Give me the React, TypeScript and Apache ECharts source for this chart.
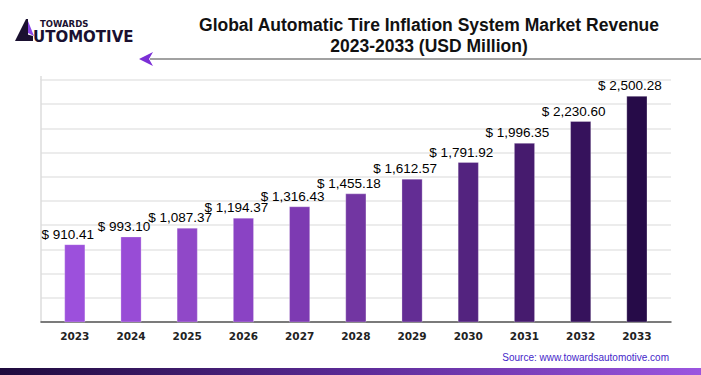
import React, { useEffect, useRef } from "react";
import * as echarts from "echarts";

const years = ["2023", "2024", "2025", "2026", "2027", "2028", "2029", "2030", "2031", "2032", "2033"];
const revenue = [910.41, 993.1, 1087.37, 1194.37, 1316.43, 1455.18, 1612.57, 1791.92, 1996.35, 2230.6, 2500.28];
const barColors = ["#9c50dc", "#984cd6", "#9048c8", "#8a43c4", "#7d3ab2", "#7236a2", "#632d94", "#53237f", "#461b6e", "#36125c", "#260b48"];
const titleLines = ["Global Automatic Tire Inflation System Market Revenue", "2023-2033 (USD Million)"];
const sourceText = "Source: www.towardsautomotive.com";

const fmt = (v: number) =>
  "$ " + v.toLocaleString("en-US", { minimumFractionDigits: 2, maximumFractionDigits: 2 });

export default function App() {
  const ref = useRef<HTMLDivElement>(null);
  useEffect(() => {
    if (!ref.current) return;
    const chart = echarts.init(ref.current, undefined, { renderer: "svg" });
    chart.setOption({
      animation: false,
      backgroundColor: "#ffffff",
      title: {
        text: titleLines.join("\n"),
        left: 424,
        top: 9,
        textAlign: "center",
        textStyle: {
          fontFamily: "Liberation Sans, Arial, sans-serif",
          fontSize: 17.5,
          fontWeight: "bold",
          color: "#111111",
          lineHeight: 21,
        },
      },
      grid: [
        { left: 41, right: 30, top: 80, bottom: 53 },
        { left: 46.7, right: 36, top: 80, bottom: 53 },
      ],
      xAxis: [
        {
          gridIndex: 0,
          type: "value",
          min: 0,
          max: 1,
          axisLine: { show: true, onZero: false, lineStyle: { color: "#555555", width: 1.5 } },
          axisTick: { show: false },
          axisLabel: { show: false },
          splitLine: { show: false },
        },
        {
          gridIndex: 1,
          type: "category",
          data: years,
          axisLine: { show: false },
          axisTick: { show: false },
          axisLabel: {
            margin: 8,
            fontFamily: "DejaVu Sans, sans-serif",
            fontSize: 10.5,
            fontWeight: "bold",
            color: "#222222",
          },
        },
      ],
      yAxis: [
        {
          gridIndex: 0,
          type: "value",
          min: 0,
          max: 10,
          interval: 1,
          axisLine: { show: true, lineStyle: { color: "#dddddd", width: 1.5 } },
          axisTick: { show: false },
          axisLabel: { show: false },
          splitLine: { show: true, lineStyle: { color: "#e6e6e6", width: 1.5 } },
        },
        {
          gridIndex: 1,
          type: "value",
          min: 77,
          max: 2671,
          show: false,
          splitLine: { show: false },
        },
      ],
      series: [
        {
          type: "bar",
          xAxisIndex: 1,
          yAxisIndex: 1,
          barWidth: 21,
          data: revenue.map((v, i) => ({
            value: v,
            itemStyle: { color: barColors[i], borderColor: "rgba(255,255,255,0.35)", borderWidth: 0.8 },
          })),
          label: {
            show: true,
            position: "top",
            distance: 3,
            offset: [-7, 0],
            formatter: (p: any) => fmt(p.value),
            fontFamily: "Liberation Sans, Arial, sans-serif",
            fontSize: 13.5,
            color: "#000000",
          },
        },
      ],
      graphic: [
        { type: "line", shape: { x1: 41, y1: 76, x2: 41, y2: 80 }, style: { stroke: "#dddddd", lineWidth: 1.5 } },
        // header line and arrow
        { type: "line", shape: { x1: 150, y1: 59, x2: 701, y2: 59 }, style: { stroke: "#444444", lineWidth: 1.2 } },
        {
          type: "polygon",
          shape: { points: [[139, 59], [153, 52], [149, 59], [153, 66]] },
          style: { fill: "#7b2fd6" },
        },
        // logo
        {
          type: "polygon",
          shape: { points: [[15, 41], [26, 19], [28, 19], [28, 41]] },
          style: { fill: "#1a1030" },
        },
        {
          type: "polygon",
          shape: { points: [[28, 21], [34, 36], [28, 33]] },
          style: { fill: "#8a46e6" },
        },
        {
          type: "polygon",
          shape: { points: [[22, 33], [33, 36], [33, 41], [22, 41]] },
          style: { fill: "#1a1030" },
        },
        {
          type: "text",
          x: 40,
          y: 23.5,
          style: {
            text: "TOWARDS",
            fontFamily: "DejaVu Sans, sans-serif",
            fontSize: 8.5,
            fontWeight: "bold",
            fill: "#1a1030",
            textVerticalAlign: "middle",
          },
        },
        {
          type: "text",
          x: 33,
          y: 36.8,
          style: {
            text: "UTOMOTIVE",
            fontFamily: "DejaVu Sans, sans-serif",
            fontSize: 15,
            fontWeight: "bold",
            fill: "#1a1030",
            textVerticalAlign: "middle",
          },
        },
        // source
        {
          type: "text",
          x: 669,
          y: 357,
          style: {
            text: sourceText,
            fontFamily: "Liberation Sans, Arial, sans-serif",
            fontSize: 10,
            fill: "#4527c9",
            textAlign: "right",
            textVerticalAlign: "middle",
          },
        },
        // bottom band
        {
          type: "rect",
          shape: { x: 0, y: 368, width: 701, height: 7 },
          style: {
            fill: new echarts.graphic.LinearGradient(0, 0, 1, 0, [
              { offset: 0, color: "#1e0a3c" },
              { offset: 0.5, color: "#5b2a96" },
              { offset: 1, color: "#9b55e0" },
            ]),
          },
        },
      ],
    });
    return () => chart.dispose();
  }, []);
  return <div ref={ref} style={{ width: 701, height: 375, position: "absolute", left: 0, top: 0 }} />;
}
